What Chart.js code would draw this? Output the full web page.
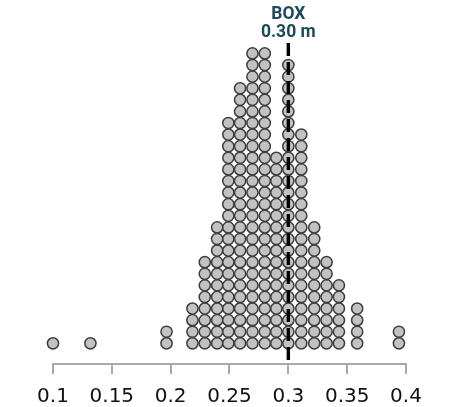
<!DOCTYPE html>
<html>
<head>
<meta charset="utf-8">
<script src="https://cdn.jsdelivr.net/npm/chart.js@4.4.1/dist/chart.umd.min.js"></script>
<style>
  html, body { margin: 0; padding: 0; background: #fff; }
  #wrap { width: 459px; height: 407px; }
</style>
</head>
<body>
<div id="wrap"><canvas id="dotPlot"></canvas></div>
<script>
// column positions (m) and how many dots are stacked in each
const binValues = [0.100, 0.1318, 0.1965, 0.2185, 0.229, 0.2395, 0.249, 0.259, 0.2695, 0.280, 0.2898, 0.300, 0.311, 0.322, 0.3325, 0.343, 0.3585, 0.394];
const binCounts = [1, 1, 2, 4, 8, 11, 20, 23, 26, 26, 17, 25, 19, 11, 8, 6, 4, 2];
const xTicks = [0.1, 0.15, 0.2, 0.25, 0.3, 0.35, 0.4];
const markerValue = 0.30;
const markerLines = ['BOX', '0.30 m'];

// one point per dot, stacked upward from row 0
const dots = [];
binValues.forEach((v, i) => {
  for (let r = 0; r < binCounts[i]; r++) {
    dots.push({ x: v, y: r });
  }
});

const markerPlugin = {
  id: 'markerLine',
  afterDatasetsDraw(chart) {
    const ctx = chart.ctx;
    const xs = chart.scales.x;
    const area = chart.chartArea;
    const px = xs.getPixelForValue(markerValue);
    ctx.save();
    ctx.strokeStyle = '#000';
    ctx.lineWidth = 3.4;
    ctx.setLineDash([13, 6]);
    ctx.beginPath();
    ctx.moveTo(px, area.top);
    ctx.lineTo(px, area.bottom);
    ctx.stroke();
    ctx.setLineDash([]);
    ctx.fillStyle = '#1c4a5a';
    ctx.font = 'bold 17.5px Roboto';
    ctx.textAlign = 'center';
    ctx.textBaseline = 'alphabetic';
    ctx.fillText(markerLines[0], px, 18.5);
    ctx.fillText(markerLines[1], px, 37);
    ctx.restore();
  }
};

new Chart(document.getElementById('dotPlot'), {
  type: 'scatter',
  data: {
    datasets: [{
      data: dots,
      clip: false,
      pointRadius: 5.6,
      pointHoverRadius: 5.6,
      backgroundColor: '#c2c2c2',
      borderColor: '#3d3d3d',
      borderWidth: 1.5
    }]
  },
  options: {
    responsive: true,
    maintainAspectRatio: false,
    animation: false,
    layout: { padding: { left: 53, right: 53, top: 43, bottom: 0 } },
    plugins: {
      legend: { display: false },
      tooltip: { enabled: false }
    },
    scales: {
      x: {
        type: 'linear',
        min: 0.1,
        max: 0.4,
        afterBuildTicks: axis => { axis.ticks = xTicks.map(v => ({ value: v })); },
        afterFit: axis => { axis.height = 43; },
        grid: { drawOnChartArea: false, color: '#aaa', lineWidth: 2, tickLength: 10 },
        border: { color: '#aaa', width: 2 },
        ticks: {
          padding: 13,
          color: '#111',
          font: { family: 'DejaVu Sans', size: 20, lineHeight: 1 },
          maxRotation: 0,
          callback: v => String(parseFloat(v.toFixed(2)))
        }
      },
      y: {
        display: false,
        min: -1.78,
        max: 25.9
      }
    }
  },
  plugins: [markerPlugin]
});
</script>
</body>
</html>
